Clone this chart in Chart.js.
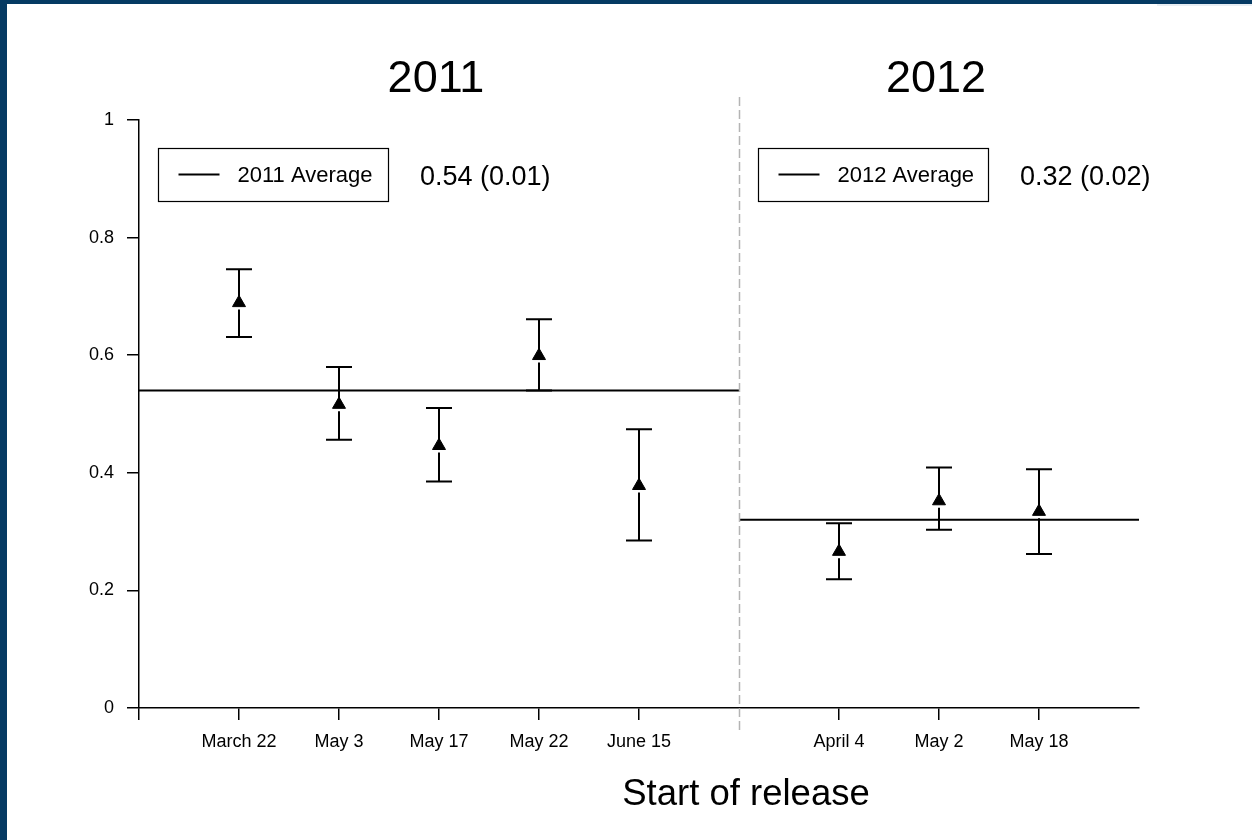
<!DOCTYPE html>
<html>
<head>
<meta charset="utf-8">
<script src="https://cdn.jsdelivr.net/npm/chart.js@4.4.1/dist/chart.umd.min.js"></script>
<style>
  html, body { margin: 0; padding: 0; background: #ffffff; }
  #frame { position: relative; width: 1252px; height: 840px; overflow: hidden; background: #ffffff; }
  #barTop { position: absolute; left: 0; top: 0; width: 1252px; height: 4px; background: #053a63; }
  #barTopRight { position: absolute; left: 1157px; top: 4px; width: 95px; height: 2px; background: #e8eef3; }
  #barLeft { position: absolute; left: 0; top: 0; width: 7px; height: 840px; background: #053a63; }
  #wrap { position: absolute; left: 0; top: 0; width: 1252px; height: 840px; }
</style>
</head>
<body>
<div id="frame">
  <div id="wrap"><canvas id="chart"></canvas></div>
  <div id="barTop"></div>
  <div id="barTopRight"></div>
  <div id="barLeft"></div>
</div>
<script>
// Release cohorts per year
const years = ['2011', '2012'];
const releases2011 = ['March 22', 'May 3', 'May 17', 'May 22', 'June 15'];
const releases2012 = ['April 4', 'May 2', 'May 18'];

// Estimated proportion per release with lower / upper interval limits
const mean2011  = [0.689, 0.516, 0.446, 0.599, 0.378];
const lower2011 = [0.631, 0.456, 0.385, 0.540, 0.285];
const upper2011 = [0.746, 0.580, 0.510, 0.661, 0.474];

const mean2012  = [0.266, 0.352, 0.334];
const lower2012 = [0.219, 0.303, 0.262];
const upper2012 = [0.314, 0.409, 0.406];

// Yearly averages and their standard errors
const yearAverage = [0.54, 0.32];
const yearSE = [0.01, 0.02];

// Y axis tick labels
const yTickValues = [0, 0.2, 0.4, 0.6, 0.8, 1];
const yTickLabels = ['0', '0.2', '0.4', '0.6', '0.8', '1'];

// Each year is a panel of slots on the x axis; the 2011 panel has 6 slots, 2012 has 4
const panels = [
  { start: 0, end: 6, labels: releases2011, mean: mean2011, lower: lower2011, upper: upper2011 },
  { start: 6, end: 10, labels: releases2012, mean: mean2012, lower: lower2012, upper: upper2012 }
];

const FONT = "'Liberation Sans', Arial, Helvetica, sans-serif";

// x slot -> label
const slotLabel = {};
const xTickValues = [0];
panels.forEach(p => {
  p.labels.forEach((lab, i) => {
    const x = p.start + i + 1;
    slotLabel[x] = lab;
    xTickValues.push(x);
  });
});

const pointData = panels.map(p => p.mean.map((v, i) => ({ x: p.start + i + 1, y: v })));
const avgData = panels.map((p, k) => [{ x: p.start, y: yearAverage[k] }, { x: p.end, y: yearAverage[k] }]);

const POINT_R = 7.5;

// Error bars with caps; the lower whisker leaves a small gap below the marker
const errorBars = {
  id: 'errorBars',
  beforeDatasetsDraw(chart) {
    const xs = chart.scales.x, ys = chart.scales.y, ctx = chart.ctx;
    ctx.save();
    ctx.strokeStyle = '#000';
    ctx.lineWidth = 2;
    ctx.lineCap = 'butt';
    panels.forEach(p => {
      p.mean.forEach((m, i) => {
        const px = xs.getPixelForValue(p.start + i + 1);
        const pm = ys.getPixelForValue(m);
        const pu = ys.getPixelForValue(p.upper[i]);
        const pl = ys.getPixelForValue(p.lower[i]);
        const cap = 13;
        ctx.beginPath();
        ctx.moveTo(px, pu); ctx.lineTo(px, pm);
        ctx.moveTo(px, pm + POINT_R / 2 + 3); ctx.lineTo(px, pl);
        ctx.moveTo(px - cap, pu); ctx.lineTo(px + cap, pu);
        ctx.moveTo(px - cap, pl); ctx.lineTo(px + cap, pl);
        ctx.stroke();
      });
    });
    ctx.restore();
  }
};

// Panel divider, year headings, legend boxes and x axis title
const decorations = {
  id: 'decorations',
  afterDraw(chart) {
    const xs = chart.scales.x, ys = chart.scales.y, ctx = chart.ctx;
    const area = chart.chartArea;
    ctx.save();

    // dashed divider between the two years
    const dx = Math.round(xs.getPixelForValue(panels[1].start)) + 0.5;
    ctx.strokeStyle = '#b4b4b4';
    ctx.lineWidth = 1.5;
    ctx.setLineDash([9, 4]);
    ctx.beginPath();
    ctx.moveTo(dx, area.top - 23);
    ctx.lineTo(dx, area.bottom + 23);
    ctx.stroke();
    ctx.setLineDash([]);

    panels.forEach((p, k) => {
      const left = xs.getPixelForValue(p.start);
      const center = (left + xs.getPixelForValue(p.end)) / 2 - 3;

      // year heading
      ctx.fillStyle = '#000';
      ctx.font = '45px ' + FONT;
      ctx.textAlign = 'center';
      ctx.textBaseline = 'alphabetic';
      ctx.fillText(years[k], center, 92);

      // legend box
      const bx = left + 19.5, by = 148.5, bw = 230, bh = 53;
      ctx.strokeStyle = '#000';
      ctx.lineWidth = 1.2;
      ctx.strokeRect(bx, by, bw, bh);
      ctx.lineWidth = 2;
      ctx.beginPath();
      ctx.moveTo(bx + 20, 174.5);
      ctx.lineTo(bx + 61, 174.5);
      ctx.stroke();
      ctx.font = '22px ' + FONT;
      ctx.textAlign = 'left';
      ctx.textBaseline = 'middle';
      ctx.fillText(years[k] + ' Average', bx + 79, 176);

      // average (SE)
      ctx.font = '27px ' + FONT;
      ctx.fillText(yearAverage[k].toFixed(2) + ' (' + yearSE[k].toFixed(2) + ')', left + 281, 178);
    });

    // x axis title
    ctx.font = '36.5px ' + FONT;
    ctx.textAlign = 'center';
    ctx.textBaseline = 'alphabetic';
    ctx.fillText('Start of release', 746, 805);
    ctx.restore();
  }
};

const datasets = [];
panels.forEach((p, k) => {
  datasets.push({
    label: years[k] + ' Average',
    data: avgData[k],
    showLine: true,
    borderColor: '#000',
    borderWidth: 2,
    pointRadius: 0,
    pointHoverRadius: 0,
    order: 2
  });
});
panels.forEach((p, k) => {
  datasets.push({
    label: years[k],
    data: pointData[k],
    showLine: false,
    pointStyle: 'triangle',
    pointRadius: POINT_R,
    pointBackgroundColor: '#000',
    pointBorderColor: '#000',
    pointBorderWidth: 1,
    order: 1
  });
});

new Chart(document.getElementById('chart'), {
  type: 'scatter',
  data: { datasets },
  plugins: [errorBars, decorations],
  options: {
    responsive: true,
    maintainAspectRatio: false,
    animation: false,
    events: [],
    layout: { padding: { top: 120, right: 113, left: 0, bottom: 0 } },
    plugins: { legend: { display: false }, tooltip: { enabled: false }, title: { display: false } },
    scales: {
      x: {
        type: 'linear',
        min: 0,
        max: 10,
        afterFit(scale) { scale.height = 132; },
        afterBuildTicks(scale) { scale.ticks = xTickValues.map(v => ({ value: v })); },
        border: { display: true, color: '#000', width: 1.5 },
        grid: { drawOnChartArea: false, drawTicks: true, tickLength: 12, color: '#000', lineWidth: 1.5 },
        ticks: {
          autoSkip: false,
          maxRotation: 0,
          padding: 11,
          color: '#000',
          font: { family: FONT, size: 18 },
          callback: v => slotLabel[v] || ''
        }
      },
      y: {
        type: 'linear',
        min: 0,
        max: 1,
        afterFit(scale) { scale.width = 139; },
        afterBuildTicks(scale) { scale.ticks = yTickValues.map(v => ({ value: v })); },
        border: { display: true, color: '#000', width: 1.5 },
        grid: { drawOnChartArea: false, drawTicks: true, tickLength: 12, color: '#000', lineWidth: 1.5 },
        ticks: {
          padding: 13,
          color: '#000',
          font: { family: FONT, size: 18 },
          callback: (v) => yTickLabels[yTickValues.indexOf(v)]
        }
      }
    }
  }
});
</script>
</body>
</html>
